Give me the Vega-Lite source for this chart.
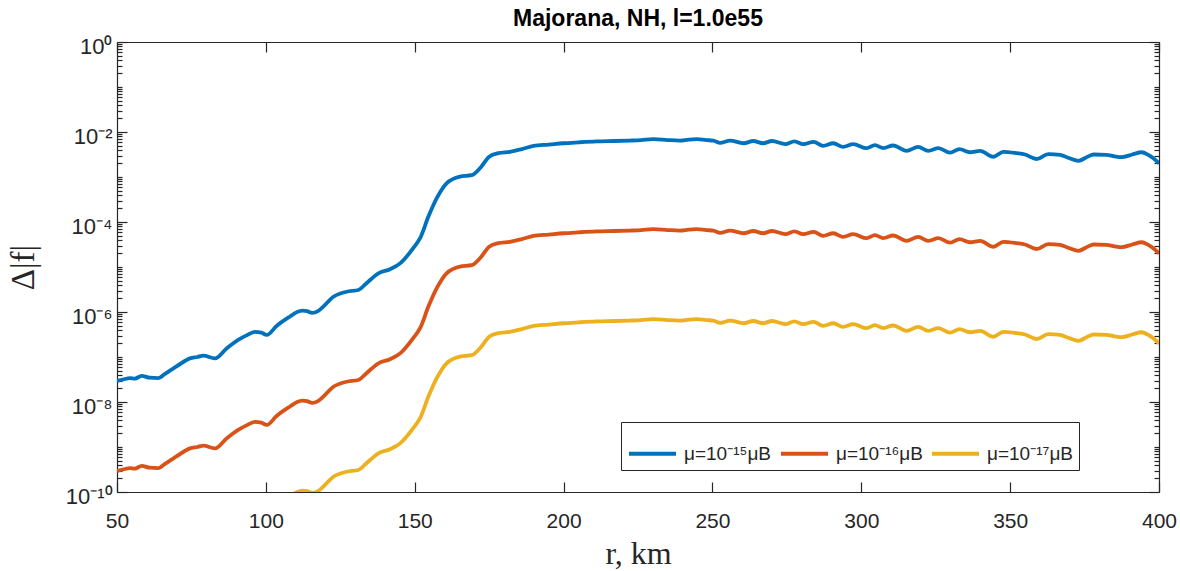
{
  "$schema": "https://vega.github.io/schema/vega-lite/v6.json",
  "width": 1042,
  "height": 450,
  "autosize": {"type": "none"},
  "padding": {"left": 117, "top": 42, "right": 21, "bottom": 79},
  "background": "white",
  "title": {
    "text": "Majorana, NH, l=1.0e55",
    "font": "Liberation Sans",
    "fontSize": 23,
    "fontWeight": "bold",
    "color": "#000000",
    "anchor": "middle",
    "offset": 4
  },
  "data": {
    "values": [
      {"r": 50, "p15": 2.951e-8, "p16": 2.951e-10, "p17": 2.951e-12},
      {"r": 52, "p15": 3.162e-8, "p16": 3.162e-10, "p17": 3.162e-12},
      {"r": 54.4, "p15": 3.388e-8, "p16": 3.388e-10, "p17": 3.388e-12},
      {"r": 56, "p15": 3.311e-8, "p16": 3.311e-10, "p17": 3.311e-12},
      {"r": 58.3, "p15": 3.802e-8, "p16": 3.802e-10, "p17": 3.802e-12},
      {"r": 61, "p15": 3.467e-8, "p16": 3.467e-10, "p17": 3.467e-12},
      {"r": 63.9, "p15": 3.388e-8, "p16": 3.388e-10, "p17": 3.388e-12},
      {"r": 66, "p15": 4.169e-8, "p16": 4.169e-10, "p17": 4.169e-12},
      {"r": 70, "p15": 6.166e-8, "p16": 6.166e-10, "p17": 6.166e-12},
      {"r": 74.5, "p15": 9.333e-8, "p16": 9.333e-10, "p17": 9.333e-12},
      {"r": 77, "p15": 1.0e-7, "p16": 1.0e-9, "p17": 1.0e-11},
      {"r": 79, "p15": 1.072e-7, "p16": 1.072e-9, "p17": 1.072e-11},
      {"r": 82.9, "p15": 9.333e-8, "p16": 9.333e-10, "p17": 9.333e-12},
      {"r": 86.8, "p15": 1.549e-7, "p16": 1.549e-9, "p17": 1.549e-11},
      {"r": 90.7, "p15": 2.399e-7, "p16": 2.399e-9, "p17": 2.399e-11},
      {"r": 93.5, "p15": 3.020e-7, "p16": 3.020e-9, "p17": 3.020e-11},
      {"r": 96.3, "p15": 3.631e-7, "p16": 3.631e-9, "p17": 3.631e-11},
      {"r": 98.5, "p15": 3.467e-7, "p16": 3.467e-9, "p17": 3.467e-11},
      {"r": 100.3, "p15": 3.090e-7, "p16": 3.090e-9, "p17": 3.090e-11},
      {"r": 103.6, "p15": 4.898e-7, "p16": 4.898e-9, "p17": 4.898e-11},
      {"r": 108.1, "p15": 7.943e-7, "p16": 7.943e-9, "p17": 7.943e-11},
      {"r": 110.5, "p15": 1.0e-6, "p16": 1.0e-8, "p17": 1.0e-10},
      {"r": 112.3, "p15": 1.072e-6, "p16": 1.072e-8, "p17": 1.072e-10},
      {"r": 113.8, "p15": 1.047e-6, "p16": 1.047e-8, "p17": 1.047e-10},
      {"r": 115.6, "p15": 9.550e-7, "p16": 9.550e-9, "p17": 9.550e-11},
      {"r": 117.5, "p15": 1.047e-6, "p16": 1.047e-8, "p17": 1.047e-10},
      {"r": 119.3, "p15": 1.318e-6, "p16": 1.318e-8, "p17": 1.318e-10},
      {"r": 122.7, "p15": 2.188e-6, "p16": 2.188e-8, "p17": 2.188e-10},
      {"r": 127.1, "p15": 2.818e-6, "p16": 2.818e-8, "p17": 2.818e-10},
      {"r": 131.1, "p15": 3.090e-6, "p16": 3.090e-8, "p17": 3.090e-10},
      {"r": 133.8, "p15": 4.365e-6, "p16": 4.365e-8, "p17": 4.365e-10},
      {"r": 137.8, "p15": 7.244e-6, "p16": 7.244e-8, "p17": 7.244e-10},
      {"r": 141.7, "p15": 8.913e-6, "p16": 8.913e-8, "p17": 8.913e-10},
      {"r": 145.1, "p15": 1.202e-5, "p16": 1.202e-7, "p17": 1.202e-9},
      {"r": 149.5, "p15": 2.630e-5, "p16": 2.630e-7, "p17": 2.630e-9},
      {"r": 151.8, "p15": 4.365e-5, "p16": 4.365e-7, "p17": 4.365e-9},
      {"r": 154.6, "p15": 1.318e-4, "p16": 1.318e-6, "p17": 1.318e-8},
      {"r": 157.4, "p15": 3.388e-4, "p16": 3.388e-6, "p17": 3.388e-8},
      {"r": 160.7, "p15": 7.244e-4, "p16": 7.244e-6, "p17": 7.244e-8},
      {"r": 165.2, "p15": 1.023e-3, "p16": 1.023e-5, "p17": 1.023e-7},
      {"r": 169.1, "p15": 1.096e-3, "p16": 1.096e-5, "p17": 1.096e-7},
      {"r": 172, "p15": 1.585e-3, "p16": 1.585e-5, "p17": 1.585e-7},
      {"r": 175, "p15": 2.818e-3, "p16": 2.818e-5, "p17": 2.818e-7},
      {"r": 178.1, "p15": 3.388e-3, "p16": 3.388e-5, "p17": 3.388e-7},
      {"r": 182, "p15": 3.631e-3, "p16": 3.631e-5, "p17": 3.631e-7},
      {"r": 186, "p15": 4.169e-3, "p16": 4.169e-5, "p17": 4.169e-7},
      {"r": 189.9, "p15": 4.898e-3, "p16": 4.898e-5, "p17": 4.898e-7},
      {"r": 195, "p15": 5.248e-3, "p16": 5.248e-5, "p17": 5.248e-7},
      {"r": 199.9, "p15": 5.623e-3, "p16": 5.623e-5, "p17": 5.623e-7},
      {"r": 205, "p15": 5.888e-3, "p16": 5.888e-5, "p17": 5.888e-7},
      {"r": 211.1, "p15": 6.166e-3, "p16": 6.166e-5, "p17": 6.166e-7},
      {"r": 217, "p15": 6.310e-3, "p16": 6.310e-5, "p17": 6.310e-7},
      {"r": 222.3, "p15": 6.457e-3, "p16": 6.457e-5, "p17": 6.457e-7},
      {"r": 226, "p15": 6.607e-3, "p16": 6.607e-5, "p17": 6.607e-7},
      {"r": 230.2, "p15": 6.918e-3, "p16": 6.918e-5, "p17": 6.918e-7},
      {"r": 235, "p15": 6.607e-3, "p16": 6.607e-5, "p17": 6.607e-7},
      {"r": 239.1, "p15": 6.457e-3, "p16": 6.457e-5, "p17": 6.457e-7},
      {"r": 242, "p15": 6.761e-3, "p16": 6.761e-5, "p17": 6.761e-7},
      {"r": 244.7, "p15": 6.918e-3, "p16": 6.918e-5, "p17": 6.918e-7},
      {"r": 248, "p15": 6.607e-3, "p16": 6.607e-5, "p17": 6.607e-7},
      {"r": 250.3, "p15": 6.457e-3, "p16": 6.457e-5, "p17": 6.457e-7},
      {"r": 252.6, "p15": 5.754e-3, "p16": 5.754e-5, "p17": 5.754e-7},
      {"r": 255.9, "p15": 6.457e-3, "p16": 6.457e-5, "p17": 6.457e-7},
      {"r": 260.5, "p15": 5.623e-3, "p16": 5.623e-5, "p17": 5.623e-7},
      {"r": 263.7, "p15": 6.310e-3, "p16": 6.310e-5, "p17": 6.310e-7},
      {"r": 267, "p15": 5.623e-3, "p16": 5.623e-5, "p17": 5.623e-7},
      {"r": 270, "p15": 6.310e-3, "p16": 6.310e-5, "p17": 6.310e-7},
      {"r": 274.5, "p15": 5.370e-3, "p16": 5.370e-5, "p17": 5.370e-7},
      {"r": 277.5, "p15": 6.166e-3, "p16": 6.166e-5, "p17": 6.166e-7},
      {"r": 280.5, "p15": 5.370e-3, "p16": 5.370e-5, "p17": 5.370e-7},
      {"r": 284, "p15": 6.026e-3, "p16": 6.026e-5, "p17": 6.026e-7},
      {"r": 287.2, "p15": 4.898e-3, "p16": 4.898e-5, "p17": 4.898e-7},
      {"r": 290.6, "p15": 5.623e-3, "p16": 5.623e-5, "p17": 5.623e-7},
      {"r": 293.9, "p15": 4.677e-3, "p16": 4.677e-5, "p17": 4.677e-7},
      {"r": 297.3, "p15": 5.370e-3, "p16": 5.370e-5, "p17": 5.370e-7},
      {"r": 301.8, "p15": 4.365e-3, "p16": 4.365e-5, "p17": 4.365e-7},
      {"r": 304.6, "p15": 5.129e-3, "p16": 5.129e-5, "p17": 5.129e-7},
      {"r": 307.4, "p15": 4.365e-3, "p16": 4.365e-5, "p17": 4.365e-7},
      {"r": 310.7, "p15": 5.012e-3, "p16": 5.012e-5, "p17": 5.012e-7},
      {"r": 315.2, "p15": 3.802e-3, "p16": 3.802e-5, "p17": 3.802e-7},
      {"r": 319.1, "p15": 4.677e-3, "p16": 4.677e-5, "p17": 4.677e-7},
      {"r": 322.5, "p15": 3.802e-3, "p16": 3.802e-5, "p17": 3.802e-7},
      {"r": 325.9, "p15": 4.365e-3, "p16": 4.365e-5, "p17": 4.365e-7},
      {"r": 329.8, "p15": 3.467e-3, "p16": 3.467e-5, "p17": 3.467e-7},
      {"r": 333, "p15": 4.169e-3, "p16": 4.169e-5, "p17": 4.169e-7},
      {"r": 336.5, "p15": 3.548e-3, "p16": 3.548e-5, "p17": 3.548e-7},
      {"r": 339.9, "p15": 3.802e-3, "p16": 3.802e-5, "p17": 3.802e-7},
      {"r": 344.4, "p15": 2.818e-3, "p16": 2.818e-5, "p17": 2.818e-7},
      {"r": 347.7, "p15": 3.631e-3, "p16": 3.631e-5, "p17": 3.631e-7},
      {"r": 352.2, "p15": 3.388e-3, "p16": 3.388e-5, "p17": 3.388e-7},
      {"r": 355, "p15": 3.162e-3, "p16": 3.162e-5, "p17": 3.162e-7},
      {"r": 358.9, "p15": 2.512e-3, "p16": 2.512e-5, "p17": 2.512e-7},
      {"r": 362.8, "p15": 3.236e-3, "p16": 3.236e-5, "p17": 3.236e-7},
      {"r": 366.8, "p15": 3.090e-3, "p16": 3.090e-5, "p17": 3.090e-7},
      {"r": 369, "p15": 2.754e-3, "p16": 2.754e-5, "p17": 2.754e-7},
      {"r": 372.9, "p15": 2.291e-3, "p16": 2.291e-5, "p17": 2.291e-7},
      {"r": 376, "p15": 2.818e-3, "p16": 2.818e-5, "p17": 2.818e-7},
      {"r": 378, "p15": 3.162e-3, "p16": 3.162e-5, "p17": 3.162e-7},
      {"r": 382.4, "p15": 3.090e-3, "p16": 3.090e-5, "p17": 3.090e-7},
      {"r": 385, "p15": 2.884e-3, "p16": 2.884e-5, "p17": 2.884e-7},
      {"r": 387.5, "p15": 2.754e-3, "p16": 2.754e-5, "p17": 2.754e-7},
      {"r": 391, "p15": 3.162e-3, "p16": 3.162e-5, "p17": 3.162e-7},
      {"r": 394.2, "p15": 3.548e-3, "p16": 3.548e-5, "p17": 3.548e-7},
      {"r": 396.4, "p15": 3.090e-3, "p16": 3.090e-5, "p17": 3.090e-7},
      {"r": 398, "p15": 2.630e-3, "p16": 2.630e-5, "p17": 2.630e-7},
      {"r": 400, "p15": 1.995e-3, "p16": 1.995e-5, "p17": 1.995e-7}
    ]
  },
  "transform": [{"fold": ["p15", "p16", "p17"], "as": ["series", "f"]}],
  "layer": [
    {
      "mark": {"type": "line", "clip": true, "strokeWidth": 3.8, "interpolate": "monotone"},
      "encoding": {
        "x": {
          "field": "r",
          "type": "quantitative",
          "scale": {"domain": [50, 400], "nice": false, "zero": false},
          "axis": {
            "orient": "bottom",
            "values": [50, 100, 150, 200, 250, 300, 350, 400],
            "tickSize": -10,
            "labelPadding": 28,
            "labelFlush": false,
            "labelOverlap": false,
            "title": "r, km",
            "titleFont": "Liberation Serif",
            "titleFontSize": 32,
            "titleFontWeight": "normal",
            "titleColor": "#262626",
            "titlePadding": 7
          }
        },
        "y": {
          "field": "f",
          "type": "quantitative",
          "scale": {"type": "log", "domain": [1e-10, 1], "nice": false},
          "axis": {
            "orient": "left",
            "values": [1e-10, 2e-10, 3e-10, 4e-10, 5e-10, 6e-10, 7e-10, 8e-10, 9e-10,
                       1e-9, 2e-9, 3e-9, 4e-9, 5e-9, 6e-9, 7e-9, 8e-9, 9e-9,
                       1e-8, 2e-8, 3e-8, 4e-8, 5e-8, 6e-8, 7e-8, 8e-8, 9e-8,
                       1e-7, 2e-7, 3e-7, 4e-7, 5e-7, 6e-7, 7e-7, 8e-7, 9e-7,
                       1e-6, 2e-6, 3e-6, 4e-6, 5e-6, 6e-6, 7e-6, 8e-6, 9e-6,
                       1e-5, 2e-5, 3e-5, 4e-5, 5e-5, 6e-5, 7e-5, 8e-5, 9e-5,
                       1e-4, 2e-4, 3e-4, 4e-4, 5e-4, 6e-4, 7e-4, 8e-4, 9e-4,
                       1e-3, 2e-3, 3e-3, 4e-3, 5e-3, 6e-3, 7e-3, 8e-3, 9e-3,
                       1e-2, 2e-2, 3e-2, 4e-2, 5e-2, 6e-2, 7e-2, 8e-2, 9e-2,
                       1e-1, 2e-1, 3e-1, 4e-1, 5e-1, 6e-1, 7e-1, 8e-1, 9e-1, 1],
            "tickSize": {
              "condition": {"test": "abs(log(datum.value)/LN10/2 - round(log(datum.value)/LN10/2)) < 1e-6", "value": -10},
              "value": -5
            },
            "labelPadding": 15,
            "labelOffset": 4,
            "labelFontSize": 22,
            "labelOverlap": false,
            "labelExpr": "abs(datum.value - 1) < 1e-9 ? '10⁰' : abs(datum.value/1e-2 - 1) < 1e-6 ? '10⁻²' : abs(datum.value/1e-4 - 1) < 1e-6 ? '10⁻⁴' : abs(datum.value/1e-6 - 1) < 1e-6 ? '10⁻⁶' : abs(datum.value/1e-8 - 1) < 1e-6 ? '10⁻⁸' : abs(datum.value/1e-10 - 1) < 1e-6 ? '10⁻¹⁰' : ''",
            "title": "Δ|f|",
            "titleFont": "Liberation Serif",
            "titleFontSize": 33,
            "titleFontWeight": "normal",
            "titleColor": "#262626",
            "titlePadding": 25
          }
        },
        "color": {
          "field": "series",
          "type": "nominal",
          "scale": {"domain": ["p15", "p16", "p17"], "range": ["#0072BD", "#D95319", "#EDB120"]},
          "legend": {
            "orient": "none",
            "legendX": 504,
            "legendY": 380,
            "direction": "horizontal",
            "columns": 3,
            "title": null,
            "symbolType": "stroke",
            "symbolSize": 2209,
            "symbolStrokeWidth": 3.8,
            "labelFont": "Liberation Sans",
            "labelFontSize": 19,
            "labelColor": "#262626",
            "labelOffset": 6,
            "columnPadding": 1,
            "strokeColor": "#262626",
            "fillColor": "white",
            "padding": 6,
            "labelExpr": "datum.label == 'p15' ? 'μ=10⁻¹⁵μB' : datum.label == 'p16' ? 'μ=10⁻¹⁶μB' : 'μ=10⁻¹⁷μB'"
          }
        }
      }
    },
    {
      "mark": {"type": "line", "clip": true, "opacity": 0},
      "encoding": {
        "x": {
          "field": "r",
          "type": "quantitative",
          "scale": {"domain": [50, 400], "nice": false, "zero": false},
          "axis": {
            "orient": "top",
            "values": [50, 100, 150, 200, 250, 300, 350, 400],
            "tickSize": -10,
            "labels": false,
            "title": null
          }
        },
        "y": {
          "field": "f",
          "type": "quantitative",
          "scale": {"type": "log", "domain": [1e-10, 1], "nice": false},
          "axis": {
            "orient": "right",
            "values": [1e-10, 2e-10, 3e-10, 4e-10, 5e-10, 6e-10, 7e-10, 8e-10, 9e-10,
                       1e-9, 2e-9, 3e-9, 4e-9, 5e-9, 6e-9, 7e-9, 8e-9, 9e-9,
                       1e-8, 2e-8, 3e-8, 4e-8, 5e-8, 6e-8, 7e-8, 8e-8, 9e-8,
                       1e-7, 2e-7, 3e-7, 4e-7, 5e-7, 6e-7, 7e-7, 8e-7, 9e-7,
                       1e-6, 2e-6, 3e-6, 4e-6, 5e-6, 6e-6, 7e-6, 8e-6, 9e-6,
                       1e-5, 2e-5, 3e-5, 4e-5, 5e-5, 6e-5, 7e-5, 8e-5, 9e-5,
                       1e-4, 2e-4, 3e-4, 4e-4, 5e-4, 6e-4, 7e-4, 8e-4, 9e-4,
                       1e-3, 2e-3, 3e-3, 4e-3, 5e-3, 6e-3, 7e-3, 8e-3, 9e-3,
                       1e-2, 2e-2, 3e-2, 4e-2, 5e-2, 6e-2, 7e-2, 8e-2, 9e-2,
                       1e-1, 2e-1, 3e-1, 4e-1, 5e-1, 6e-1, 7e-1, 8e-1, 9e-1, 1],
            "tickSize": {
              "condition": {"test": "abs(log(datum.value)/LN10/2 - round(log(datum.value)/LN10/2)) < 1e-6", "value": -10},
              "value": -5
            },
            "labels": false,
            "title": null
          }
        },
        "detail": {"field": "series", "type": "nominal"}
      }
    }
  ],
  "resolve": {"axis": {"x": "independent", "y": "independent"}},
  "config": {
    "view": {"stroke": null},
    "axis": {
      "grid": false,
      "domainColor": "#262626",
      "domainWidth": 1.2,
      "tickColor": "#262626",
      "tickWidth": 1.2,
      "labelColor": "#262626",
      "labelFont": "Liberation Sans",
      "labelFontSize": 21
    }
  }
}
